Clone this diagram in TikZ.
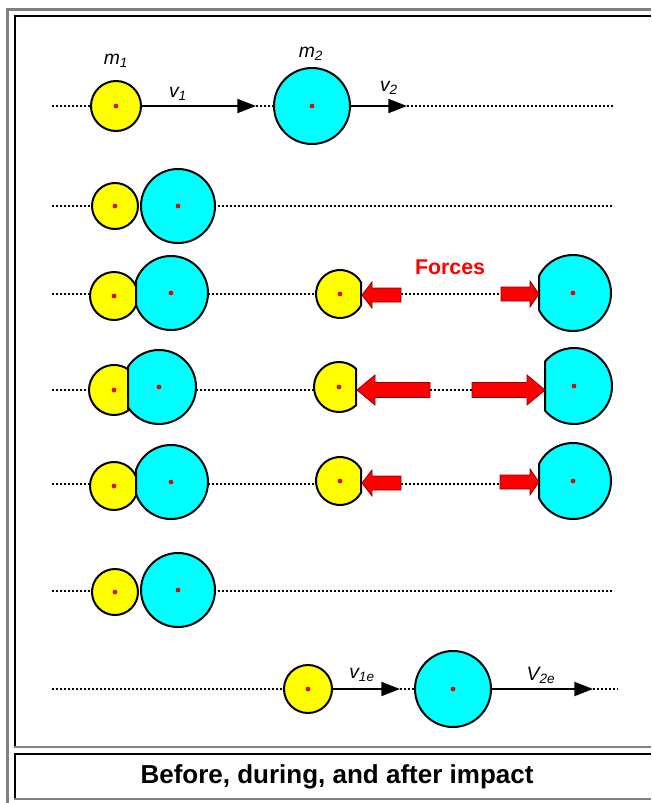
\documentclass[tikz,border=0pt]{standalone}
\usepackage{fontspec}
\setmainfont{Liberation Sans}
\usetikzlibrary{arrows.meta}
\definecolor{framegray}{HTML}{808080}
\definecolor{ballyellow}{HTML}{FFFF00}
\definecolor{ballcyan}{HTML}{00FFFF}
\definecolor{forcered}{HTML}{FF0000}
\newcommand\ballcutright[6]{% name, cx, cy, r, xcut, fill
  \pgfmathsetmacro\mycutang{acos((#5-#2)/#4)}
  \filldraw[ball, fill=#6] (#2,#3) ++(\mycutang:#4) arc[start angle=\mycutang, end angle={360-\mycutang}, radius=#4] -- cycle;
  \coordinate (#1) at (#2,#3);
  \coordinate (#1-w) at ({#2-#4},#3);
  \coordinate (#1-e) at (#5,#3);
  \fill[centredot] (#1) circle[radius=2.1];
}
\newcommand\ballcutleft[6]{% name, cx, cy, r, xcut, fill
  \pgfmathsetmacro\mycutang{acos((#2-#5)/#4)}
  \filldraw[ball, fill=#6] (#2,#3) ++({\mycutang-180}:#4) arc[start angle={\mycutang-180}, end angle={180-\mycutang}, radius=#4] -- cycle;
  \coordinate (#1) at (#2,#3);
  \coordinate (#1-w) at (#5,#3);
  \coordinate (#1-e) at ({#2+#4},#3);
  \fill[centredot] (#1) circle[radius=2.1];
}
\newcommand\forceleft[6]{% tip x, head base x, tail x, y, head half, shaft half
  \filldraw[forcearrow] (#1,#4) -- (#2,{#4-#5}) -- (#2,{#4-#6}) -- (#3,{#4-#6}) -- (#3,{#4+#6}) -- (#2,{#4+#6}) -- (#2,{#4+#5}) -- cycle;
}
\newcommand\forceright[6]{% tail x, head base x, tip x, y, head half, shaft half
  \filldraw[forcearrow] (#3,#4) -- (#2,{#4-#5}) -- (#2,{#4-#6}) -- (#1,{#4-#6}) -- (#1,{#4+#6}) -- (#2,{#4+#6}) -- (#2,{#4+#5}) -- cycle;
}
\begin{document}
\begin{tikzpicture}[x=0.75pt,y=-0.75pt,
  ball/.style={draw=black, line width=1.5pt, line join=round},
  yb/.style={circle, ball, fill=ballyellow, inner sep=0pt, minimum size=#1*1.5pt},
  cb/.style={circle, ball, fill=ballcyan, inner sep=0pt, minimum size=#1*1.5pt},
  centredot/.style={fill=forcered, draw=forcered!70!black, line width=0.3pt},
  dotline/.style={line width=1.6pt, dash pattern=on 1.6pt off 1.4pt},
  vel/.style={line width=1.5pt, -{Triangle[length=14pt,width=10.5pt]}},
  forcearrow/.style={fill=forcered, draw=forcered!55!black, line width=0.6pt},
  lab/.style={inner sep=0pt, font=\fontsize{14.5}{16}\selectfont\itshape},
  framegrey/.style={draw=framegray},
]
\useasboundingbox (0,0) rectangle (651,803);
\fill[white] (0,0) rectangle (651,803);
% frame
\draw[framegrey, line width=2.25pt] (6,9.5) -- (651,9.5);
\draw[framegrey, line width=2.25pt] (7.5,8) -- (7.5,803);
\draw[line width=1.5pt] (14,15.8) -- (651,15.8);
\draw[line width=1.5pt] (14.5,15) -- (14.5,747);
\draw[framegrey, line width=1.1pt] (14,747) -- (651,747);
\draw[line width=1.5pt] (14,754) -- (651,754);
\draw[line width=1.5pt] (14.5,753) -- (14.5,799.5);
\draw[framegrey, line width=1.1pt] (14,799) -- (651,799);

% ---------- row 1 ----------
\coordinate (r1L) at (52,106);
\coordinate (r1R) at (614,106);
\coordinate (t1) at (256,106);
\coordinate (t2) at (407,106);
\node[yb=25] (y1) at (116,106) {};
\node[cb=38] (c1) at (312,106) {};
\fill[centredot] (y1) circle[radius=2.1];
\fill[centredot] (c1) circle[radius=2.1];
\draw[dotline] (r1L) -- (y1.west);
\draw[vel] (y1.east) -- (t1);
\draw[dotline] (t1) -- (c1.west);
\draw[vel] (c1.east) -- (t2);
\draw[dotline] (t2) -- (r1R);
\node[lab] (m1) at (116,61) {m\textsubscript{1}};
\node[lab] (m2) at (311,54) {m\textsubscript{2}};
\node[lab] (v1) at (178,94) {v\textsubscript{1}};
\node[lab] (v2) at (389,88) {v\textsubscript{2}};

% ---------- row 2 ----------
\coordinate (r2L) at (52,206);
\coordinate (r2R) at (614,206);
\draw[dotline] (r2L) -- (141,206);
\draw[dotline] (178,206) -- (r2R);
\node[yb=23] (y2) at (115,206) {};
\node[cb=37] (c2) at (178,206) {};
\fill[centredot] (y2) circle[radius=2.1];
\fill[centredot] (c2) circle[radius=2.1];

% ---------- row 3 ----------
\coordinate (r3L) at (52,294);
\draw[dotline] (r3L) -- (100,294);
\draw[dotline] (180,294) -- (330,294);
\draw[dotline] (401,294) -- (501,294);
\ballcutright{y3}{114}{296}{24}{136}{ballyellow}
\ballcutleft{c3}{171}{293}{37}{136}{ballcyan}
\ballcutright{y3b}{340}{294}{24}{361}{ballyellow}
\ballcutleft{c3b}{573}{293}{38}{539}{ballcyan}
\forceleft{362}{372}{401}{295}{13}{7}
\forceright{501}{530}{539}{294}{13}{7}
\node[inner sep=0pt, text=forcered, font=\fontsize{16}{18}\selectfont\bfseries] (forces) at (450,267) {Forces};

% ---------- row 4 ----------
\coordinate (r4L) at (52,390);
\draw[dotline] (r4L) -- (100,390);
\draw[dotline] (180,390) -- (330,390);
\draw[dotline] (430,390) -- (472,390);
\ballcutright{y4}{114}{390}{25}{128}{ballyellow}
\ballcutleft{c4}{159}{387}{37}{128}{ballcyan}
\ballcutright{y4b}{339}{387}{25}{356}{ballyellow}
\ballcutleft{c4b}{574}{386}{38}{545}{ballcyan}
\forceleft{357}{375}{430}{390}{15}{7.5}
\forceright{472}{527}{545}{390}{15}{7.5}

% ---------- row 5 ----------
\coordinate (r5L) at (52,484);
\draw[dotline] (r5L) -- (100,484);
\draw[dotline] (180,484) -- (330,484);
\draw[dotline] (401,484) -- (500,484);
\ballcutright{y5}{114}{486}{24}{136}{ballyellow}
\ballcutleft{c5}{171}{482}{37}{136}{ballcyan}
\ballcutright{y5b}{340}{481}{24}{361}{ballyellow}
\ballcutleft{c5b}{573}{481}{38}{539}{ballcyan}
\forceleft{362}{372}{401}{483}{13}{7}
\forceright{500}{530}{539}{482}{13}{7}

% ---------- row 6 ----------
\coordinate (r6L) at (52,591);
\coordinate (r6R) at (614,591);
\draw[dotline] (r6L) -- (141,591);
\draw[dotline] (178,591) -- (r6R);
\node[yb=23] (y6) at (115,592) {};
\node[cb=37] (c6) at (178,590) {};
\fill[centredot] (y6) circle[radius=2.1];
\fill[centredot] (c6) circle[radius=2.1];

% ---------- row 7 ----------
\coordinate (r7L) at (52,689);
\coordinate (r7R) at (618,689);
\coordinate (t7a) at (400,689);
\coordinate (t7b) at (593,689);
\node[yb=24] (y7) at (308,689) {};
\node[cb=38] (c7) at (453,689) {};
\fill[centredot] (y7) circle[radius=2.1];
\fill[centredot] (c7) circle[radius=2.1];
\draw[dotline] (r7L) -- (y7.west);
\draw[vel] (y7.east) -- (t7a);
\draw[dotline] (t7a) -- (c7.west);
\draw[vel] (c7.east) -- (t7b);
\draw[dotline] (t7b) -- (r7R);
\node[lab] (v1e) at (362,675) {v\textsubscript{1e}};
\node[lab] (v2e) at (541,675) {V\textsubscript{2e}};

% ---------- caption ----------
\node[inner sep=0pt, font=\fontsize{19.5}{22}\selectfont\bfseries] (cap) at (337,777) {Before, during, and after impact};
\end{tikzpicture}
\end{document}
